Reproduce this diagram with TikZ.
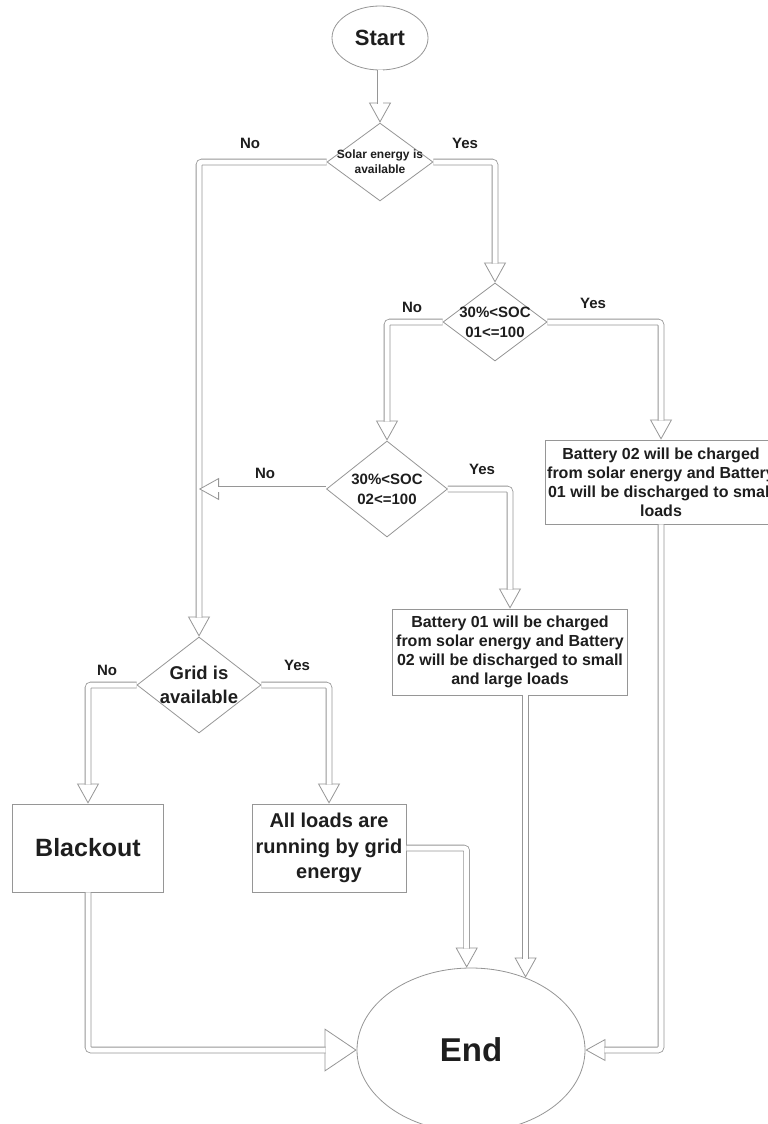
\documentclass[tikz,border=0pt]{standalone}
\usepackage{fontspec}
\setmainfont{Liberation Sans}
\usepackage{tikz}
\usetikzlibrary{arrows.meta}
\usetikzlibrary{shapes.geometric}
\definecolor{linegray}{RGB}{150,150,150}
\definecolor{textgray}{RGB}{30,30,30}
\tikzset{
  shapebase/.style={draw=linegray, line width=0.8pt, text=textgray, align=center},
  terminal/.style={shapebase, ellipse, inner sep=0pt},
  decision/.style={shapebase, diamond, inner sep=-8pt},
  process/.style={shapebase, rectangle, inner sep=0pt},
  lbl/.style={text=textgray, font=\fontsize{15}{18}\selectfont\bfseries, inner sep=0pt},
  flowtip/.style={draw=linegray, line width=0.8pt, rounded corners=3pt,
    -{Triangle[length=20pt, width=22pt, fill=white]}},
  flowshaft/.style={draw=linegray, line width=0.8pt, rounded corners=3pt,
    double=white, double distance=5pt, shorten >=19pt},
}
\newcommand{\flow}[1]{%
  \draw[flowtip] #1;
  \draw[flowshaft] #1;}

\begin{document}
\begin{tikzpicture}[x=1pt, y=-1pt]
\path[fill=white, use as bounding box] (0,0) rectangle (768,1124);

\node[terminal, minimum width=96pt, minimum height=64pt,
  font=\fontsize{22}{26}\selectfont\bfseries] (start) at (380,38) {Start};
\node[decision, minimum width=106pt, minimum height=77pt,
  font=\fontsize{12}{15}\selectfont\bfseries] (solar) at (380,162) {Solar energy is\\available};
\node[decision, minimum width=104pt, minimum height=78pt,
  font=\fontsize{15}{20}\selectfont\bfseries] (soc1) at (495,322) {30\%<SOC\\01<=100};
\node[decision, minimum width=121pt, minimum height=96pt,
  font=\fontsize{15}{20}\selectfont\bfseries] (soc2) at (387,489) {30\%<SOC\\02<=100};
\node[process, minimum width=232pt, minimum height=84pt,
  font=\fontsize{16}{19}\selectfont\bfseries] (b02) at (661,482)
  {Battery 02 will be charged\\from solar energy and Battery\\01 will be discharged to small\\loads};
\node[process, minimum width=235pt, minimum height=86pt,
  font=\fontsize{16}{19}\selectfont\bfseries] (b01) at (510,652)
  {Battery 01 will be charged\\from solar energy and Battery\\02 will be discharged to small\\and large loads};
\node[decision, minimum width=124pt, minimum height=96pt,
  font=\fontsize{18.5}{24}\selectfont\bfseries] (grid) at (199,685) {Grid is\\available};
\node[process, minimum width=151pt, minimum height=88pt,
  font=\fontsize{25}{30}\selectfont\bfseries] (blackout) at (88,848) {Blackout};
\node[process, minimum width=154pt, minimum height=88pt,
  font=\fontsize{20}{25.5}\selectfont\bfseries] (allloads) at (329,848)
  {All loads are\\running by grid\\energy};
\node[terminal, minimum width=228pt, minimum height=164pt,
  font=\fontsize{33}{38}\selectfont\bfseries] (end) at (471,1050) {End};

\node[lbl] (no1) at (250,143) {No};
\node[lbl] (yes1) at (465,143) {Yes};
\node[lbl] (no2) at (412,307) {No};
\node[lbl] (yes2) at (593,303) {Yes};
\node[lbl] (no3) at (265,473) {No};
\node[lbl] (yes3) at (482,469) {Yes};
\node[lbl] (no4) at (107,670) {No};
\node[lbl] (yes4) at (297,665) {Yes};

\coordinate (nojoin) at (grid.north |- soc2.west);

\flow{(start) -- (solar)}
\flow{(solar.west) -| (grid.north)}
\flow{(solar.east) -| (soc1.north)}
\flow{(soc1.west) -| (soc2.north)}
\flow{(soc1.east) -| (b02.north)}
\flow{(soc2.west) -- (nojoin)}
\flow{(soc2.east) -| (b01.north)}
\flow{(grid.west) -| (blackout.north)}
\flow{(grid.east) -| (allloads.north)}
\flow{(allloads.east) -| (end.93)}
\flow{(b01.south -| end.53) -- (end.53)}
\flow{(b02.south) |- (end.east)}
\draw[flowtip, -{Triangle[length=32pt, width=43pt, fill=white]}] (blackout.south) |- (end.west);
\draw[flowshaft, shorten >=31pt] (blackout.south) |- (end.west);
\end{tikzpicture}
\end{document}
